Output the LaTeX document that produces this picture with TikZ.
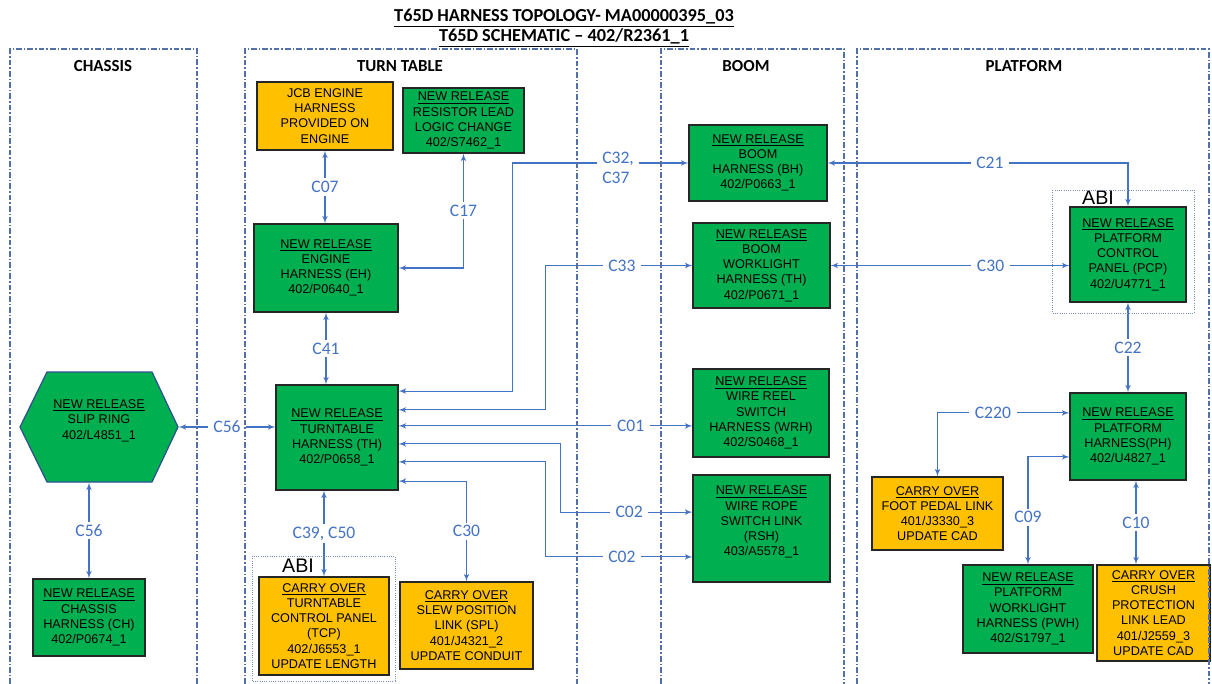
\documentclass[tikz,border=0pt]{standalone}
\usepackage{fontspec}
\setmainfont{Liberation Sans}
\newfontfamily\calfont[Ligatures=TeX]{Carlito}
\usepackage{tikz}
\usepackage{xcolor}
\usetikzlibrary{shapes,arrows,positioning}
\tikzset{
        release/.style={
            rectangle, draw=black!85, line width=0.9pt,
            fill=relgreen, align=center, inner sep=0pt,
            font=\fontsize{9}{10.8}\selectfont
        },
        carry/.style={
            release, fill=carryorange
        },
        link/.style={
            draw=linkblue, line width=0.8pt, <->, >=latex'
        },
        tag/.style={
            fill=white, text=linkblue, inner xsep=4pt, inner ysep=2pt,
            font=\calfont\fontsize{12.5}{14}\selectfont
        },
        zone/.style={
            draw=zoneblue, line width=1pt,
            dash pattern=on 4pt off 1.5pt on 1pt off 1.5pt
        },
        zonetitle/.style={
            font=\calfont\bfseries\fontsize{12}{14}\selectfont
        },
        abi/.style={
            draw=zoneblue!80, densely dotted, line width=0.6pt
        },
        abitext/.style={
            font=\fontsize{14}{16}\selectfont, inner sep=0pt
        }
    }
\definecolor{relgreen}{RGB}{0,176,80}
\definecolor{carryorange}{RGB}{255,192,0}
\definecolor{linkblue}{RGB}{68,114,196}
\definecolor{zoneblue}{RGB}{84,112,170}
\definecolor{hexblue}{RGB}{47,82,143}

\begin{document}
\begin{tikzpicture}[x=0.025cm, y=-0.025cm]
    \useasboundingbox (0,0) rectangle (1212,684);

    \node[font=\calfont\bfseries\fontsize{13}{15}\selectfont] (title1) at (564,18) {\underline{T65D HARNESS TOPOLOGY- MA00000395\_03}};
    \node[font=\calfont\bfseries\fontsize{13}{15}\selectfont] (title2) at (564,38) {\underline{T65D SCHEMATIC – 402/R2361\_1}};

    \node[zonetitle] (hChassis) at (103,66) {CHASSIS};
    \node[zonetitle] (hTurn) at (400,66) {TURN TABLE};
    \node[zonetitle] (hBoom) at (746,66) {BOOM};
    \node[zonetitle] (hPlat) at (1024,66) {PLATFORM};

    % chassis
    \draw[fill=relgreen, draw=hexblue, line width=0.9pt]
        (20,427) -- (47,372) -- (152,372) -- (178,427) -- (152,482) -- (47,482) -- cycle;
    \node[release, draw=none, fill=none, minimum width=3.95cm, minimum height=2.75cm] (SR) at (99,427)
        {\underline{NEW RELEASE}\\SLIP RING\\402/L4851\_1\\\mbox{}};
    \node[release, minimum width=2.8cm, minimum height=1.925cm] (CH) at (89,617.5)
        {\underline{NEW RELEASE}\\CHASSIS\\HARNESS (CH)\\402/P0674\_1};

    % turn table
    \node[carry, minimum width=3.4cm, minimum height=1.7cm] (JCB) at (325,116)
        {JCB ENGINE\\HARNESS\\PROVIDED ON\\ENGINE};
    \node[release, minimum width=3.025cm, minimum height=1.625cm] (RES) at (463.5,120.5)
        {\underline{NEW RELEASE}\\RESISTOR LEAD\\LOGIC CHANGE\\402/S7462\_1};
    \node[release, minimum width=3.6cm, minimum height=2.2cm] (EH) at (326,268)
        {\underline{NEW RELEASE}\\ENGINE\\HARNESS (EH)\\402/P0640\_1};
    \node[release, minimum width=3.05cm, minimum height=2.625cm] (TH) at (337,437.5)
        {\underline{NEW RELEASE}\\TURNTABLE\\HARNESS (TH)\\402/P0658\_1};
    \node[carry, minimum width=3.25cm, minimum height=2.45cm] (TCP) at (324,626)
        {\underline{CARRY OVER}\\TURNTABLE\\CONTROL PANEL\\(TCP)\\402/J6553\_1\\UPDATE LENGTH};
    \node[carry, minimum width=3.325cm, minimum height=2.175cm] (SPL) at (466.5,625.5)
        {\underline{CARRY OVER}\\SLEW POSITION\\LINK (SPL)\\401/J4321\_2\\UPDATE CONDUIT};

    % boom
    \node[release, minimum width=3.45cm, minimum height=1.9cm] (BH) at (758,163)
        {\underline{NEW RELEASE}\\BOOM\\HARNESS (BH)\\402/P0663\_1};
    \node[release, minimum width=3.425cm, minimum height=2.125cm] (BWH) at (761.5,265.5)
        {\underline{NEW RELEASE}\\BOOM\\WORKLIGHT\\HARNESS (TH)\\402/P0671\_1};
    \node[release, minimum width=3.4cm, minimum height=2.2cm] (WRH) at (761,413)
        {\underline{NEW RELEASE}\\WIRE REEL\\SWITCH\\HARNESS (WRH)\\402/S0468\_1};
    \node[release, minimum width=3.425cm, minimum height=2.675cm] (RSH) at (761.5,528.5)
        {\underline{NEW RELEASE}\\WIRE ROPE\\SWITCH LINK\\(RSH)\\403/A5578\_1\\\mbox{}};

    % platform
    \node[release, minimum width=2.9cm, minimum height=2.375cm] (PCP) at (1128,254.5)
        {\underline{NEW RELEASE}\\PLATFORM\\CONTROL\\PANEL (PCP)\\402/U4771\_1};
    \node[release, minimum width=2.9cm, minimum height=2.175cm] (PH) at (1128,436.5)
        {\underline{NEW RELEASE}\\PLATFORM\\HARNESS(PH)\\402/U4827\_1};
    \node[carry, minimum width=3.275cm, minimum height=1.825cm] (FPL) at (937.5,513.5)
        {\underline{CARRY OVER}\\FOOT PEDAL LINK\\401/J3330\_3\\UPDATE CAD};
    \node[release, minimum width=3.25cm, minimum height=2.2cm] (PWH) at (1028,609)
        {\underline{NEW RELEASE}\\PLATFORM\\WORKLIGHT\\HARNESS (PWH)\\402/S1797\_1};
    \node[carry, minimum width=2.825cm, minimum height=2.4cm] (CPL) at (1153.5,613)
        {\underline{CARRY OVER}\\CRUSH\\PROTECTION\\LINK LEAD\\401/J2559\_3\\UPDATE CAD};

    \node[abitext] (abiTCP) at (298,566) {ABI};
    \node[abitext] (abiPCP) at (1098,198) {ABI};

    % connectors
    \draw[link] (JCB.south) -- node[tag]{C07} (JCB.south |- EH.north);
    \draw[link] (RES.south) -- node[tag]{C17} (RES.south |- EH.east) -- (EH.east);
    \draw[link] (EH.south) -- node[tag]{C41} (EH.south |- TH.north);
    \draw[link] (SR.east) -- node[tag]{C56} (SR.east -| TH.west);
    \draw[link] (CH.north) -- node[tag]{C56} (CH.north |- SR.south);
    \draw[link] (TH.south -| TCP.north) -- node[tag]{C39, C50} (TCP.north);
    \draw[link] ([yshift=-1.09cm]TH.east) -| node[tag,pos=0.75]{C30} (SPL.north);
    \draw[link] ([yshift=1.16cm]TH.east) -- ++(114,0) |- node[tag,pos=0.8,align=left,yshift=-0.12cm]{C32,\\C37} (BH.west);
    \draw[link] ([yshift=0.69cm]TH.east) -- ++(147,0) |- node[tag,pos=0.76]{C33} (BWH.west);
    \draw[link] ([yshift=0.29cm]TH.east) -- node[tag,pos=0.79]{C01} ([yshift=0.29cm]TH.east -| WRH.west);
    \draw[link] ([yshift=-0.16cm]TH.east) -- ++(162,0) |- node[tag,pos=0.76]{C02} ([yshift=0.41cm]RSH.west);
    \draw[link] ([yshift=-0.61cm]TH.east) -- ++(147,0) |- node[tag,pos=0.76]{C02} ([yshift=-0.71cm]RSH.west);
    \draw[link] (BH.east) -| node[tag,pos=0.27]{C21} (PCP.north);
    \draw[link] (BWH.east) -- node[tag,pos=0.67]{C30} (BWH.east -| PCP.west);
    \draw[link] (PCP.south) -- node[tag]{C22} (PH.north);
    \draw[link] ([yshift=0.59cm]PH.west) -| node[tag,pos=0.29]{C220} (FPL.north);
    \draw[link] ([yshift=-0.51cm]PH.west) -| node[tag,pos=0.78]{C09} (PWH.north);
    \draw[link] ([xshift=0.2cm]PH.south) -- node[tag]{C10} ([xshift=0.2cm]PH.south |- CPL.north);

    % zones
    \draw[abi] (252,556) rectangle (395,681);
    \draw[abi] (1052,190) rectangle (1194,313);
    \draw[zone] (10,684) -- (10,49) -- (197,49) -- (197,684);
    \draw[zone] (245,684) -- (245,49) -- (577,49) -- (577,684);
    \draw[zone] (661,684) -- (661,49) -- (844,49) -- (844,684);
    \draw[zone] (857,684) -- (857,49) -- (1209,49) -- (1209,684);

\end{tikzpicture}
\end{document}
